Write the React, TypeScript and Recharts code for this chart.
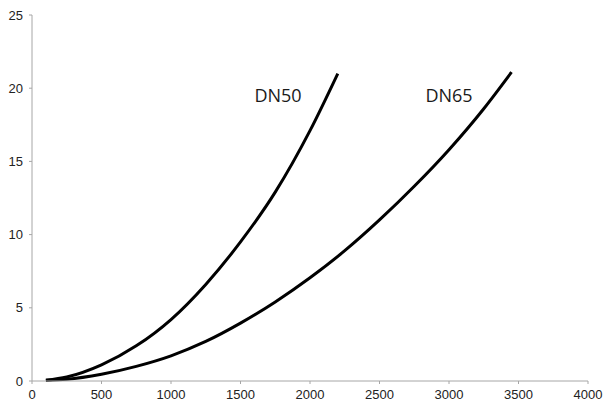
import { LineChart, Line, XAxis, YAxis, ReferenceDot } from "recharts";

// flow values
const dn50Flow = [100, 250, 500, 750, 1000, 1250, 1500, 1750, 2000, 2200];
const dn50Drop = [0.05, 0.27, 1.1, 2.4, 4.2, 6.6, 9.5, 12.9, 17.1, 21.0];

const dn65Flow = [100, 250, 500, 750, 1000, 1250, 1500, 1750, 2000, 2250, 2500, 2750, 3000, 3250, 3450];
const dn65Drop = [0.05, 0.12, 0.46, 1.0, 1.72, 2.7, 3.95, 5.4, 7.05, 8.9, 11.0, 13.3, 15.8, 18.6, 21.1];

const xTicks = [0, 500, 1000, 1500, 2000, 2500, 3000, 3500, 4000];
const yTicks = [0, 5, 10, 15, 20, 25];

const seriesLabels = [
  { name: "DN50", x: 1770, y: 19.5 },
  { name: "DN65", x: 3000, y: 19.5 },
];

const dn50 = dn50Flow.map((x, i) => ({ x, y: dn50Drop[i] }));
const dn65 = dn65Flow.map((x, i) => ({ x, y: dn65Drop[i] }));

const axisColor = "#a6a6a6";
const tickStyle = { fill: "#222", fontSize: 13, fontFamily: "Liberation Sans, Arial, sans-serif" };

export default function App() {
  return (
    <div style={{ position: "absolute", top: 0, left: 0, background: "#fff" }}>
      <LineChart width={606} height={408} margin={{ top: 15, right: 18, bottom: 0, left: 0 }}>
        <XAxis
          dataKey="x"
          type="number"
          domain={[0, 4000]}
          ticks={xTicks}
          stroke={axisColor}
          tickSize={3}
          tickMargin={6}
          height={27}
          tick={tickStyle}
          allowDuplicatedCategory={false}
        />
        <YAxis
          type="number"
          domain={[0, 25]}
          ticks={yTicks}
          stroke={axisColor}
          tickSize={3}
          tickMargin={6}
          width={32}
          tick={tickStyle}
        />
        <Line
          data={dn50}
          dataKey="y"
          type="monotone"
          stroke="#000"
          strokeWidth={3}
          dot={false}
          isAnimationActive={false}
        />
        <Line
          data={dn65}
          dataKey="y"
          type="monotone"
          stroke="#000"
          strokeWidth={3}
          dot={false}
          isAnimationActive={false}
        />
        {seriesLabels.map((l) => (
          <ReferenceDot
            key={l.name}
            x={l.x}
            y={l.y}
            r={0}
            stroke="none"
            fill="none"
            label={{
              value: l.name,
              position: "center",
              fill: "#1a1a1a",
              fontSize: 18,
              fontFamily: "Open Sans, sans-serif",
            }}
          />
        ))}
      </LineChart>
    </div>
  );
}
